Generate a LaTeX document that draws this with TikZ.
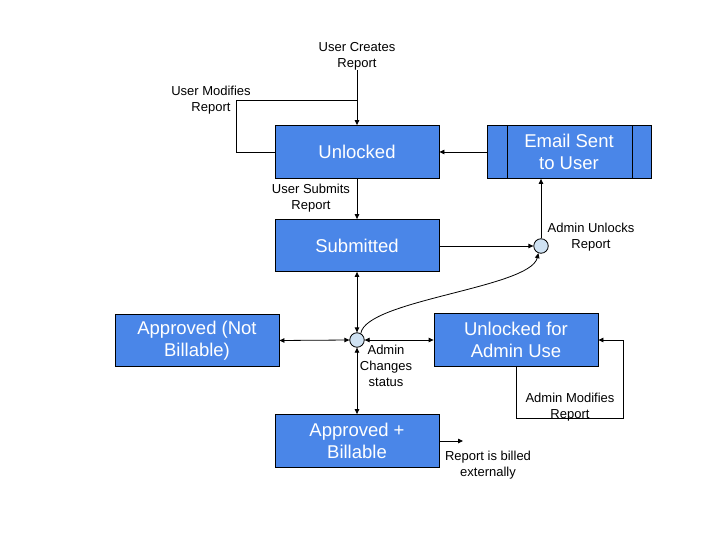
\documentclass[tikz,border=0pt]{standalone}
\usepackage{fontspec}
\setmainfont{Liberation Sans}
\usetikzlibrary{arrows.meta}
\definecolor{boxblue}{HTML}{4A86E8}
\definecolor{dotblue}{HTML}{CFE2F3}
\begin{document}
\begin{tikzpicture}[x=1pt,y=-1pt,
  state/.style={draw=black,line width=0.8pt,fill=boxblue,text=white,minimum width=164pt,minimum height=53pt,inner sep=0pt,align=center,font=\fontsize{18.5}{22}\selectfont},
  dot/.style={circle,draw=black,line width=0.8pt,fill=dotblue,minimum size=14.5pt,inner sep=0pt},
  lbl/.style={align=center,font=\fontsize{13}{16}\selectfont,inner sep=0pt},
  conn/.style={line width=0.8pt,draw=black},
  arr/.style={conn,-{Triangle[length=5pt,width=4.5pt]}},
  darr/.style={conn,{Triangle[length=5pt,width=4.5pt]}-{Triangle[length=5pt,width=4.5pt]}}]
\useasboundingbox (0,0) rectangle (720,540);

\node[state] (unlocked) at (357,152) {Unlocked};
\node[state,minimum height=52pt] (submitted) at (357,245.5) {Submitted};
\node[state] (email) at (569,152) {Email Sent\\to User};
\draw[conn] ([xshift=21pt]email.north west) -- ([xshift=21pt]email.south west);
\draw[conn] ([xshift=-19pt]email.north east) -- ([xshift=-19pt]email.south east);
\node[state,minimum height=52pt] (anb) at (197,340.5) {Approved (Not\\Billable)};
\node[state] (uadmin) at (516,340) {Unlocked for\\Admin Use};
\node[state] (ab) at (357,441) {Approved +\\Billable};

\node[dot] (c1) at (541,246) {};
\node[dot] (c2) at (357,340) {};

\node[lbl] (lcreate) at (357,56) {User Creates\\Report};
\node[lbl] (lmod) at (211,100) {User Modifies\\Report};
\node[lbl] (lsub) at (311,198) {User Submits\\Report};
\node[lbl] (lunl) at (591,237) {Admin Unlocks\\Report};
\node[lbl] (lchg) at (386,366) {Admin\\Changes\\status};
\node[lbl] (lamod) at (570,407) {Admin Modifies\\Report};
\node[lbl] (lbill) at (488,465) {Report is billed\\externally};

\coordinate (j) at (357,100);
\coordinate (bill) at (463,441);

\draw[arr] (lcreate.south) -- (unlocked.north);
\draw[conn] (unlocked.west) -- ++(-38,0) |- (j);
\draw[arr] (unlocked.south) -- (submitted.north);
\draw[arr] (email.west) -- (unlocked.east);
\draw[arr] (c1.north) -- (c1.north |- email.south);
\draw[arr] (submitted.east |- c1.west) -- (c1.west);
\draw[arr] (c2.60) .. controls (366,300) and (530,288) .. (c1.-110);
\draw[darr] (submitted.south) -- (c2.north);
\draw[darr] (c2.west) -- (anb.east);
\draw[darr] (c2.east) -- (uadmin.west);
\draw[darr] (c2.south) -- (ab.north);
\draw[arr] (uadmin.south) -- ++(0,51) -| (623,340) -- (uadmin.east);
\draw[arr] (ab.east |- bill) -- (bill);
\end{tikzpicture}
\end{document}
